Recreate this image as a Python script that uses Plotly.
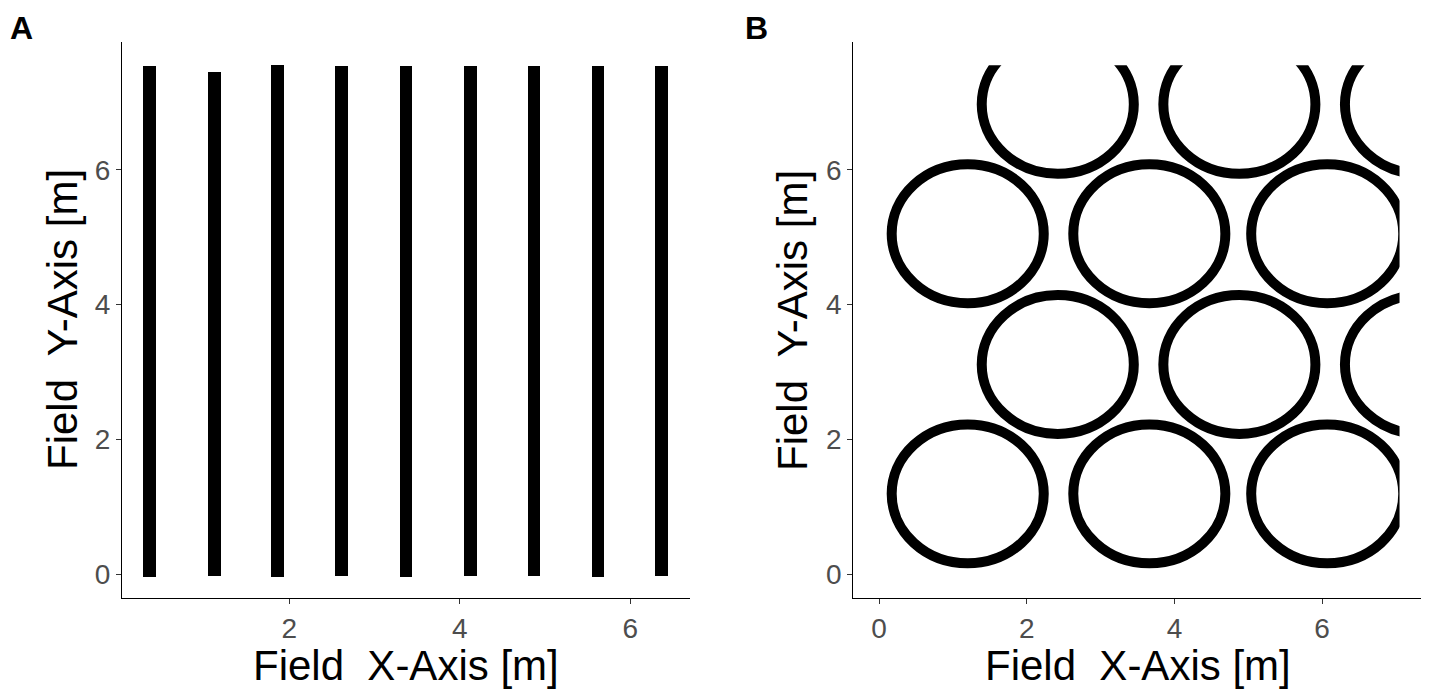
import plotly.graph_objects as go

# ---------------- data ----------------
# Panel A: straight rows (x position, y start, y end) in metres
rows_x = [0.36, 1.12, 1.86, 2.61, 3.37, 4.13, 4.87, 5.62, 6.37]
rows_ymin = [-0.04, -0.03, -0.04, -0.03, -0.04, -0.03, -0.03, -0.04, -0.03]
rows_ymax = [7.55, 7.46, 7.56, 7.55, 7.54, 7.55, 7.55, 7.55, 7.55]

# Panel B: circular paths (centre x, centre y, radius) in metres
circ_cx = [1.20, 3.66, 6.07, 2.42, 4.88, 7.34, 1.20, 3.66, 6.07, 2.42, 4.88, 7.34]
circ_cy = [1.19, 1.19, 1.19, 3.11, 3.11, 3.11, 5.05, 5.05, 5.05, 6.97, 6.97, 6.97]
circ_r = [1.03] * 12

# field limits (recorded data are confined to the field)
field_xmax = 7.05
field_ymax = 7.55

x_ticks_a = [2, 4, 6]
x_ticks_b = [0, 2, 4, 6]
y_ticks = [0, 2, 4, 6]

# ---------------- layout geometry ----------------
# the page body has an 8 px margin; positions below are reference pixels - 8
OFF = 8
W, H = 1413, 684


def px_x(p):
    return (p - OFF) / W


def px_y(p):
    return 1 - (p - OFF) / H


xa_dom = [px_x(122), px_x(690)]
xb_dom = [px_x(853.3), min(1.0, px_x(1421.7))]
y_dom = [px_y(598.3), px_y(41.7)]
xa_rng = [0.04, 6.70]
xb_rng = [-0.35, 7.35]
y_rng = [-0.36, 7.90]

FONT = "Liberation Sans, Arial, sans-serif"

fig = go.Figure()

# Panel A rows as bars spanning their y extent
fig.add_trace(go.Bar(
    x=rows_x,
    y=[b - a for a, b in zip(rows_ymin, rows_ymax)],
    base=rows_ymin,
    width=0.15,
    marker=dict(color="black", line=dict(width=0)),
    xaxis="x", yaxis="y", showlegend=False, hoverinfo="skip",
))

# panel B axes
fig.add_trace(go.Scatter(x=[None], y=[None], xaxis="x2", yaxis="y2",
                         showlegend=False, hoverinfo="skip"))
# helper subplot for panel B, clipped to the field limits
fig.add_trace(go.Scatter(x=[None], y=[None], xaxis="x3", yaxis="y3",
                         showlegend=False, hoverinfo="skip"))

full_xb = [px_x(853.3), px_x(1421.7)]
x3_dom = [full_xb[0],
          full_xb[0] + (field_xmax - xb_rng[0]) / (xb_rng[1] - xb_rng[0]) * (full_xb[1] - full_xb[0])]
y3_dom = [y_dom[0],
          y_dom[0] + (field_ymax - y_rng[0]) / (y_rng[1] - y_rng[0]) * (y_dom[1] - y_dom[0])]

shapes = []
for cx, cy, r in zip(circ_cx, circ_cy, circ_r):
    shapes.append(dict(type="circle", xref="x3", yref="y3",
                       x0=cx - r, x1=cx + r, y0=cy - r, y1=cy + r,
                       line=dict(color="black", width=10),
                       fillcolor="rgba(0,0,0,0)"))

axis_common = dict(
    showline=True, linecolor="black", linewidth=1.3,
    ticks="outside", ticklen=5, tickwidth=1.2, tickcolor="#333333",
    tickfont=dict(family=FONT, size=28, color="#4D4D4D"),
    showgrid=False, zeroline=False, mirror=False,
)
hidden = dict(visible=True, showline=False, showticklabels=False, ticks="",
              showgrid=False, zeroline=False)

fig.update_layout(
    width=W, height=H,
    margin=dict(l=0, r=0, t=0, b=0),
    paper_bgcolor="white", plot_bgcolor="rgba(0,0,0,0)",
    showlegend=False,
    xaxis=dict(domain=xa_dom, range=xa_rng, tickvals=x_ticks_a, anchor="y", **axis_common),
    yaxis=dict(domain=y_dom, range=y_rng, tickvals=y_ticks, anchor="x", **axis_common),
    xaxis2=dict(domain=xb_dom, range=[xb_rng[0], xb_rng[0] + (xb_dom[1] - xb_dom[0]) / (full_xb[1] - full_xb[0]) * (xb_rng[1] - xb_rng[0])],
                tickvals=x_ticks_b, anchor="y2", **axis_common),
    yaxis2=dict(domain=y_dom, range=y_rng, tickvals=y_ticks, anchor="x2", **axis_common),
    xaxis3=dict(domain=x3_dom, range=[xb_rng[0], field_xmax], anchor="y3", **hidden),
    yaxis3=dict(domain=y3_dom, range=[y_rng[0], field_ymax], anchor="x3", **hidden),
    shapes=shapes,
    bargap=0,
)

title_font = dict(family=FONT, size=42, color="black")
panel_font = dict(family=FONT, size=32, color="black")
ann = [
    dict(text="<b>A</b>", x=0, y=1, xref="paper", yref="paper",
         xanchor="left", yanchor="top", showarrow=False, font=panel_font),
    dict(text="<b>B</b>", x=(745 - OFF - 2) / W, y=1, xref="paper", yref="paper",
         xanchor="left", yanchor="top", showarrow=False, font=panel_font),
    dict(text="Field\u00a0 X-Axis [m]", x=(xa_dom[0] + xa_dom[1]) / 2, y=px_y(665),
         xref="paper", yref="paper", xanchor="center", yanchor="middle",
         showarrow=False, font=title_font),
    dict(text="Field\u00a0 X-Axis [m]", x=(full_xb[0] + full_xb[1]) / 2, y=px_y(665),
         xref="paper", yref="paper", xanchor="center", yanchor="middle",
         showarrow=False, font=title_font),
    dict(text="Field\u00a0 Y-Axis [m]", x=px_x(62), y=px_y(320), textangle=-90,
         xref="paper", yref="paper", xanchor="center", yanchor="middle",
         showarrow=False, font=title_font),
    dict(text="Field\u00a0 Y-Axis [m]", x=px_x(792), y=px_y(320), textangle=-90,
         xref="paper", yref="paper", xanchor="center", yanchor="middle",
         showarrow=False, font=title_font),
]
fig.update_layout(annotations=ann)

fig.write_html("out.html")
